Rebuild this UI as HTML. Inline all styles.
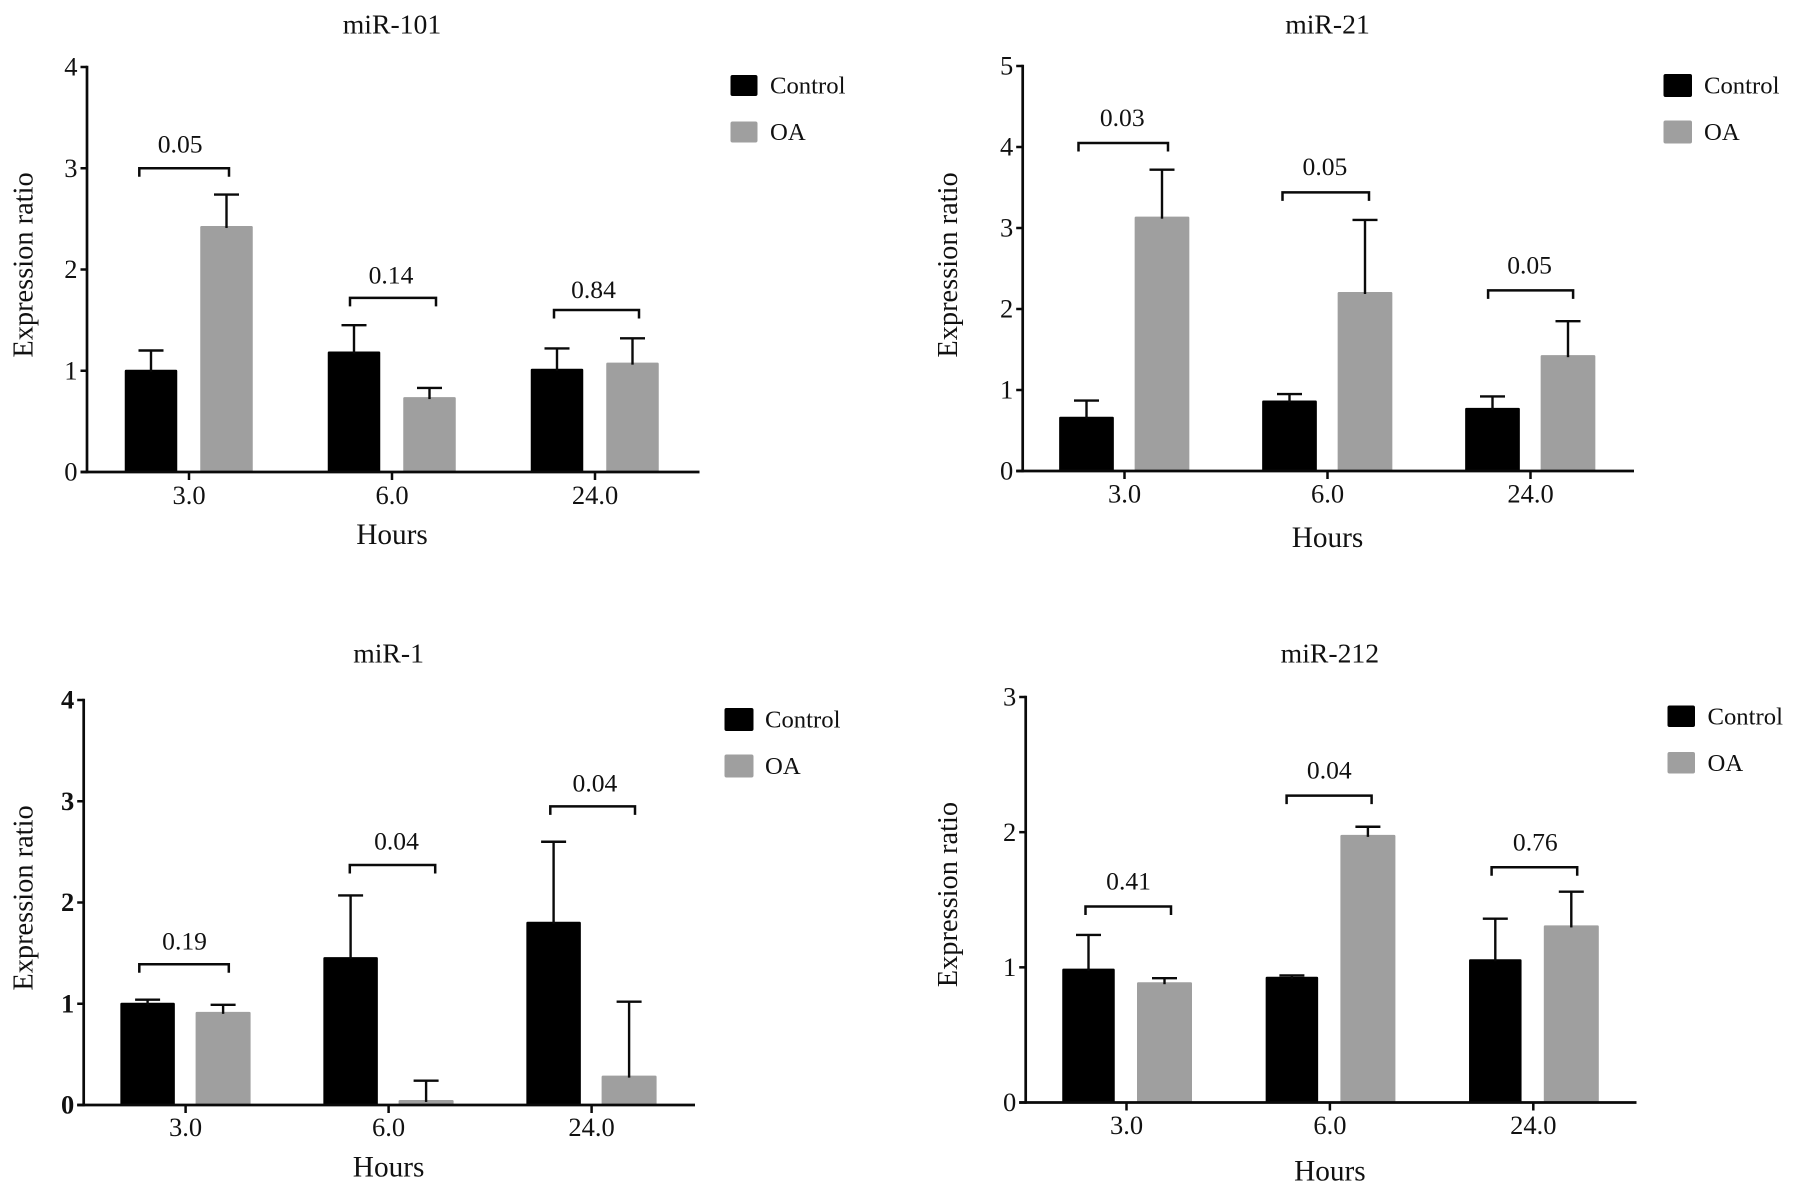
<!DOCTYPE html>
<html lang="en">
<head>
<meta charset="utf-8">
<title>Expression ratio of miRNAs</title>
<style>
html,body{margin:0;padding:0;background:#fff;}
svg{display:block;}
text{font-family:"Liberation Serif","Times New Roman",serif;fill:#111;}
</style>
</head>
<body>
<svg id="figure" width="1795" height="1193" viewBox="0 0 1795 1193" xmlns="http://www.w3.org/2000/svg"></svg>
<script>
// ---- Shared data ----
const categories = ["3.0", "6.0", "24.0"];
const seriesNames = ["Control", "OA"];

// ---- miR-101 ----
const mir101Control = [1.01, 1.19, 1.02];
const mir101ControlErrTop = [1.2, 1.45, 1.22];
const mir101OA = [2.43, 0.74, 1.08];
const mir101OAErrTop = [2.74, 0.83, 1.32];
const mir101PValues = ["0.05", "0.14", "0.84"];
const mir101BracketLevels = [3.0, 1.72, 1.6];
const mir101YTicks = [0, 1, 2, 3, 4];

// ---- miR-21 ----
const mir21Control = [0.67, 0.87, 0.78];
const mir21ControlErrTop = [0.87, 0.95, 0.92];
const mir21OA = [3.14, 2.21, 1.43];
const mir21OAErrTop = [3.72, 3.1, 1.85];
const mir21PValues = ["0.03", "0.05", "0.05"];
const mir21BracketLevels = [4.05, 3.44, 2.23];
const mir21YTicks = [0, 1, 2, 3, 4, 5];

// ---- miR-1 ----
const mir1Control = [1.01, 1.46, 1.81];
const mir1ControlErrTop = [1.04, 2.07, 2.6];
const mir1OA = [0.92, 0.05, 0.29];
const mir1OAErrTop = [0.99, 0.24, 1.02];
const mir1PValues = ["0.19", "0.04", "0.04"];
const mir1BracketLevels = [1.39, 2.37, 2.95];
const mir1YTicks = [0, 1, 2, 3, 4];

// ---- miR-212 ----
const mir212Control = [0.99, 0.93, 1.06];
const mir212ControlErrTop = [1.24, 0.94, 1.36];
const mir212OA = [0.89, 1.98, 1.31];
const mir212OAErrTop = [0.92, 2.04, 1.56];
const mir212PValues = ["0.41", "0.04", "0.76"];
const mir212BracketLevels = [1.45, 2.27, 1.74];
const mir212YTicks = [0, 1, 2, 3];

// ---- Panel definitions: data references plus frame geometry ----
const panels = [
  {title:"miR-101", control:mir101Control, controlErr:mir101ControlErrTop, oa:mir101OA, oaErr:mir101OAErrTop,
   p:mir101PValues, levels:mir101BracketLevels, yTicks:mir101YTicks,
   frame:{axisX:87, y0:472, yTop:67, xEnd:699.5, firstCat:189, catStep:203, oaDx:37.5, blackW:52.5, grayW:52.5, titleY:33.5, tickY:504, hoursY:544, yTitleX:32.5, yTitleC:265, legX:730.5, legY:75, legW:27, legH:21, legGap:46.5, legTx:770, boldY:false,
     brL:[-49.7,-42,-41], brR:[40,44,44], pDx:[-4,-2,-3], pGap:[16,14.5,12]}},
  {title:"miR-21", control:mir21Control, controlErr:mir21ControlErrTop, oa:mir21OA, oaErr:mir21OAErrTop,
   p:mir21PValues, levels:mir21BracketLevels, yTicks:mir21YTicks,
   frame:{axisX:1022.7, y0:471, yTop:66, xEnd:1634, firstCat:1124.5, catStep:203, oaDx:37.5, blackW:54.7, grayW:54.7, titleY:33.5, tickY:502.5, hoursY:547, yTitleX:957, yTitleC:265, legX:1663.5, legY:74, legW:28.5, legH:23, legGap:46.5, legTx:1704, boldY:false,
     brL:[-46,-45,-42.4], brR:[43.5,41.5,42.6], pDx:[-1,-0.8,-1], pGap:[16.8,17.3,17]}},
  {title:"miR-1", control:mir1Control, controlErr:mir1ControlErrTop, oa:mir1OA, oaErr:mir1OAErrTop,
   p:mir1PValues, levels:mir1BracketLevels, yTicks:mir1YTicks,
   frame:{axisX:83.7, y0:1105, yTop:700, xEnd:695, firstCat:185.6, catStep:203, oaDx:37.5, blackW:54.5, grayW:55, titleY:662.5, tickY:1136, hoursY:1176.5, yTitleX:32.5, yTitleC:898, legX:724.5, legY:708, legW:29, legH:23, legGap:46.5, legTx:765, boldY:true,
     brL:[-46.3,-38.8,-41.3], brR:[43.2,46.6,43.4], pDx:[0.5,4,2.3], pGap:[15,15.5,15]}},
  {title:"miR-212", control:mir212Control, controlErr:mir212ControlErrTop, oa:mir212OA, oaErr:mir212OAErrTop,
   p:mir212PValues, levels:mir212BracketLevels, yTicks:mir212YTicks,
   frame:{axisX:1025.7, y0:1102.5, yTop:697, xEnd:1636.5, firstCat:1126.5, catStep:203.4, oaDx:38, blackW:52.5, grayW:55, titleY:662.5, tickY:1134, hoursY:1180.5, yTitleX:957, yTitleC:894.6, legX:1667.5, legY:705.5, legW:27.5, legH:21.5, legGap:46.5, legTx:1707.5, boldY:false,
     brL:[-41,-43.3,-41.7], brR:[44.5,41.7,43.9], pDx:[0.3,0.2,0.9], pGap:[17.2,17,16.9]}}
];

const SVG_NS = "http://www.w3.org/2000/svg";
const svg = document.getElementById("figure");
const BLACK = "#000000";
const GRAY = "#9f9f9f";
const INK = "#0a0a0a";

function make(tag, parent, attrs) {
  const el = document.createElementNS(SVG_NS, tag);
  for (const k in attrs) el.setAttribute(k, attrs[k]);
  parent.appendChild(el);
  return el;
}
function label(parent, str, x, y, size, anchor, extra) {
  const el = make("text", parent, Object.assign({x:x, y:y, "font-size":size, "text-anchor":anchor}, extra || {}));
  el.textContent = str;
  return el;
}
function line(parent, x1, y1, x2, y2, w) {
  return make("line", parent, {x1:x1, y1:y1, x2:x2, y2:y2, stroke:INK, "stroke-width":w});
}

function drawPanel(panel) {
  const f = panel.frame;
  const yMax = panel.yTicks[panel.yTicks.length - 1];
  const yScale = v => f.y0 - (v / yMax) * (f.y0 - f.yTop);
  const xScale = i => f.firstCat + i * f.catStep;
  const controlX = i => xScale(i) - 38;
  const oaX = i => xScale(i) + f.oaDx;

  const g = make("g", svg, {});
  
  

  const title = label(g, panel.title, xScale(1), f.titleY, 27.7, "middle");
  
  

  // Bars
  categories.forEach((cat, i) => {
    const barC = make("rect", g, {x:controlX(i) - f.blackW / 2, y:yScale(panel.control[i]), width:f.blackW, height:f.y0 - yScale(panel.control[i]), fill:BLACK, rx:1.2});
    
    
    const barO = make("rect", g, {x:oaX(i) - f.grayW / 2, y:yScale(panel.oa[i]), width:f.grayW, height:f.y0 - yScale(panel.oa[i]), fill:GRAY, rx:1.2});
    
    

    const errC = make("g", g, {});
    
    
    line(errC, controlX(i), yScale(panel.control[i]) + 2, controlX(i), yScale(panel.controlErr[i]), 2.4);
    line(errC, controlX(i) - 12.5, yScale(panel.controlErr[i]), controlX(i) + 12.5, yScale(panel.controlErr[i]), 2.4);

    const errO = make("g", g, {});
    
    
    line(errO, oaX(i), yScale(panel.oa[i]) + 2, oaX(i), yScale(panel.oaErr[i]), 2.4);
    line(errO, oaX(i) - 12.5, yScale(panel.oaErr[i]), oaX(i) + 12.5, yScale(panel.oaErr[i]), 2.4);

    // Significance bracket
    const by = yScale(panel.levels[i]);
    const bl = xScale(i) + f.brL[i];
    const br = xScale(i) + f.brR[i];
    const bracket = make("path", g, {d:"M" + bl + " " + (by + 8.5) + "V" + by + "H" + br + "V" + (by + 8.5), fill:"none", stroke:INK, "stroke-width":2.5});
    
    
    const pText = label(g, panel.p[i], (bl + br) / 2 + f.pDx[i], by - f.pGap[i], 25.6, "middle");
    
    

    // X tick + label
    const xt = line(g, xScale(i), f.y0, xScale(i), f.y0 + 8, 2.5);
    
    
    const xl = label(g, cat, xScale(i), f.tickY, 26.5, "middle");
    
    
  });

  // Axes
  const yAxis = line(g, f.axisX, f.yTop - 1.2, f.axisX, f.y0 + 1.2, 2.7);
  
  
  const xAxis = line(g, f.axisX - 6.5, f.y0, f.xEnd, f.y0, 2.7);
  
  

  panel.yTicks.forEach(v => {
    const t = line(g, f.axisX - 6.5, yScale(v), f.axisX, yScale(v), 2.5);
    
    
    const l = label(g, String(v), f.axisX - 9.5, yScale(v) + 8.7, 26.5, "end", f.boldY ? {"font-weight":"bold"} : {});
    
    
  });

  const hours = label(g, "Hours", xScale(1), f.hoursY, 29.3, "middle");
  
  

  const yTitle = make("text", g, {transform:"translate(" + f.yTitleX + "," + f.yTitleC + ") rotate(-90)", "font-size":28.4, "text-anchor":"middle"});
  yTitle.textContent = "Expression ratio";
  
  

  // Legend
  seriesNames.forEach((name, s) => {
    const entry = make("g", g, {});
    
    
    const swatch = make("rect", entry, {x:f.legX, y:f.legY + s * f.legGap, width:f.legW, height:f.legH, fill:s === 0 ? BLACK : GRAY, rx:2});
    
    
    const txt = label(entry, name, f.legTx, f.legY + s * f.legGap + f.legH / 2 + 8, 24.7, "start");
    
    
  });
}

panels.forEach(drawPanel);
</script>
</body>
</html>
